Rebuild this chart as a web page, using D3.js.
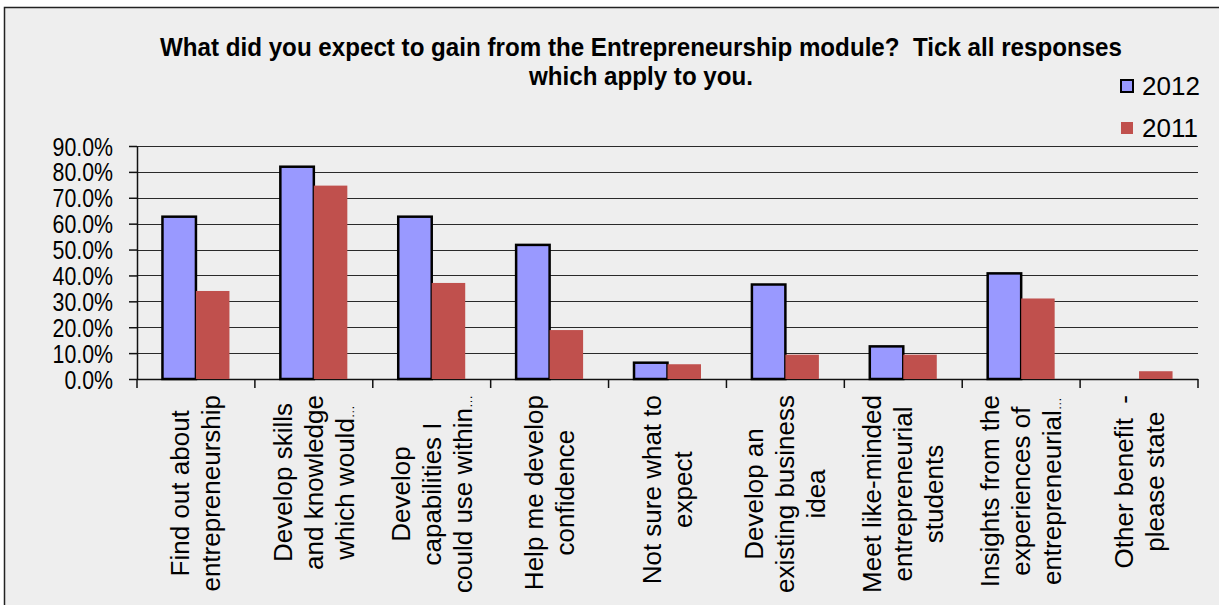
<!DOCTYPE html>
<html>
<head>
<meta charset="utf-8">
<script src="https://cdn.jsdelivr.net/npm/d3@7"></script>
<style>
  html, body { margin: 0; padding: 0; background: #ffffff; }
  svg { display: block; }
  text { font-family: "Liberation Sans", Arial, sans-serif; fill: #000; white-space: pre; }
</style>
</head>
<body>
<div id="chart"></div>
<script>
// Data
const categories = [
    ["Find out about", "entrepreneurship"],
    ["Develop skills", "and knowledge", "which would…"],
    ["Develop", "capabilities I", "could use within…"],
    ["Help me develop", "confidence"],
    ["Not sure what to", "expect"],
    ["Develop an", "existing business", "idea"],
    ["Meet like-minded", "entrepreneurial", "students"],
    ["Insights from the", "experiences of", "entrepreneurial…"],
    ["Other benefit  -", "please state"]
];
const seriesNames = ["2012", "2011"];
const values2012 = [0.627, 0.820, 0.627, 0.518, 0.063, 0.365, 0.126, 0.408, 0.0];
const values2011 = [0.340, 0.747, 0.371, 0.189, 0.057, 0.094, 0.094, 0.311, 0.030];
const yTicks = [0, 0.1, 0.2, 0.3, 0.4, 0.5, 0.6, 0.7, 0.8, 0.9];
const titleLines = [
    "What did you expect to gain from the Entrepreneurship module?  Tick all responses",
    "which apply to you."
];

const W = 1219, H = 605;
const plot = { left: 137, right: 1198, top: 146, bottom: 379 };

const svg = d3.select("#chart").append("svg")
    .attr("width", W)
    .attr("height", H);

// Chart area background and frame
svg.append("rect")
    .attr("x", 4.5).attr("y", 7.5)
    .attr("width", W + 20).attr("height", H + 20)
    .attr("fill", "#eeeeee")
    .attr("stroke", "#222")
    .attr("stroke-width", 1.5);

// Scales
const x0 = d3.scaleBand()
    .domain(d3.range(categories.length))
    .range([plot.left, plot.right])
    .padding(0);

const x1 = d3.scaleBand()
    .domain(seriesNames)
    .range([0, x0.bandwidth()])
    .paddingInner(0)
    .paddingOuter(0.76);

const y = d3.scaleLinear()
    .domain([0, 0.9])
    .range([plot.bottom, plot.top]);

const color = d3.scaleOrdinal()
    .domain(seriesNames)
    .range(["#9999ff", "#c0504d"]);

// Gridlines
svg.append("g")
    .selectAll("line")
    .data(yTicks.slice(1))
    .enter()
    .append("line")
    .attr("x1", plot.left)
    .attr("x2", plot.right)
    .attr("y1", d => Math.round(y(d)) + 0.5)
    .attr("y2", d => Math.round(y(d)) + 0.5)
    .attr("stroke", "#2a2a2a")
    .attr("stroke-width", 1.2);

// Y axis
const yAxisGroup = svg.append("g")
    .attr("transform", `translate(${plot.left},0)`)
    .call(d3.axisLeft(y)
        .tickValues(yTicks)
        .tickFormat(d3.format(".1%"))
        .tickSize(8)
        .tickPadding(0)
        .tickSizeOuter(0));

yAxisGroup.select(".domain").attr("stroke", "#111").attr("stroke-width", 1.5);
yAxisGroup.selectAll(".tick line").attr("stroke", "#111").attr("stroke-width", 1.5);
// the reference draws these labels horizontally condensed
yAxisGroup.selectAll(".tick text")
    .attr("x", -24)
    .attr("dy", "0.35em")
    .style("font-size", "26px")
    .style("font-family", "'Liberation Sans', Arial, sans-serif")
    .attr("fill", "#000")
    .each(function () {
        const w = this.getComputedTextLength();
        d3.select(this)
            .attr("textLength", w * 0.82)
            .attr("lengthAdjust", "spacingAndGlyphs");
    });

// X axis
const xAxisGroup = svg.append("g")
    .attr("transform", `translate(0,${plot.bottom})`);

xAxisGroup.append("line")
    .attr("x1", plot.left).attr("x2", plot.right)
    .attr("y1", 0.5).attr("y2", 0.5)
    .attr("stroke", "#111")
    .attr("stroke-width", 1.5);

xAxisGroup.selectAll(".xtick")
    .data(d3.range(categories.length + 1))
    .enter()
    .append("line")
    .attr("class", "xtick")
    .attr("x1", d => d < categories.length ? x0(d) : plot.right)
    .attr("x2", d => d < categories.length ? x0(d) : plot.right)
    .attr("y1", 0)
    .attr("y2", 9)
    .attr("stroke", "#111")
    .attr("stroke-width", 1.5);

// Bars
const rows = categories.map((c, i) => ({ i, v: { "2012": values2012[i], "2011": values2011[i] } }));

const groups = svg.append("g")
    .selectAll("g")
    .data(rows)
    .enter()
    .append("g")
    .attr("transform", d => `translate(${x0(d.i)},0)`);

groups.selectAll("rect")
    .data(d => seriesNames.map(s => ({ s, v: d.v[s] })).filter(d => d.v > 0))
    .enter()
    .append("rect")
    .attr("x", d => x1(d.s))
    .attr("y", d => y(d.v))
    .attr("width", x1.bandwidth())
    .attr("height", d => plot.bottom - y(d.v))
    .attr("fill", d => color(d.s))
    .attr("stroke", d => d.s === "2012" ? "#000" : "none")
    .attr("stroke-width", 2.5);

// Rotated category labels, lines centred, block ending at the axis
const labelTop = 395;
const lineGap = 31;
categories.forEach((lines, i) => {
    const cx = x0(i) + x0.bandwidth() / 2;
    const g = svg.append("g")
        .attr("transform", `translate(${cx},0) rotate(-90)`);
    const texts = g.selectAll("text")
        .data(lines)
        .enter()
        .append("text")
        .attr("text-anchor", "middle")
        .style("font-size", "26px")
        .attr("y", (d, j) => (j - (lines.length - 1) / 2) * lineGap + 9);
    // truncated lines get a small, tight ellipsis like the reference
    texts.each(function (d) {
        const t = d3.select(this);
        if (d.endsWith("…")) {
            t.append("tspan").text(d.slice(0, -1));
            t.append("tspan").style("font-size", "13px").text("…");
        } else {
            t.text(d);
        }
    });
    let maxW = 0;
    texts.each(function () { maxW = Math.max(maxW, this.getComputedTextLength()); });
    texts.attr("x", -(labelTop + maxW / 2));
});

// Title
const titleWidths = [962, 224];
titleLines.forEach((t, i) => {
    svg.append("text")
        .attr("x", 641)
        .attr("y", 56 + i * 29)
        .attr("text-anchor", "middle")
        .attr("textLength", titleWidths[i])
        .attr("lengthAdjust", "spacingAndGlyphs")
        .style("font-size", "26px")
        .style("font-weight", "bold")
        .text(t);
});

// Legend
const legend = svg.append("g")
    .selectAll("g")
    .data(seriesNames)
    .enter()
    .append("g")
    .attr("transform", (d, i) => `translate(1121,${80 + i * 42})`);

legend.append("rect")
    .attr("width", 12)
    .attr("height", 12)
    .attr("fill", d => color(d))
    .attr("stroke", d => d === "2012" ? "#000" : "none")
    .attr("stroke-width", 2);

legend.append("text")
    .attr("x", 21)
    .attr("y", 15)
    .style("font-size", "26px")
    .text(d => d);
</script>
</body>
</html>
